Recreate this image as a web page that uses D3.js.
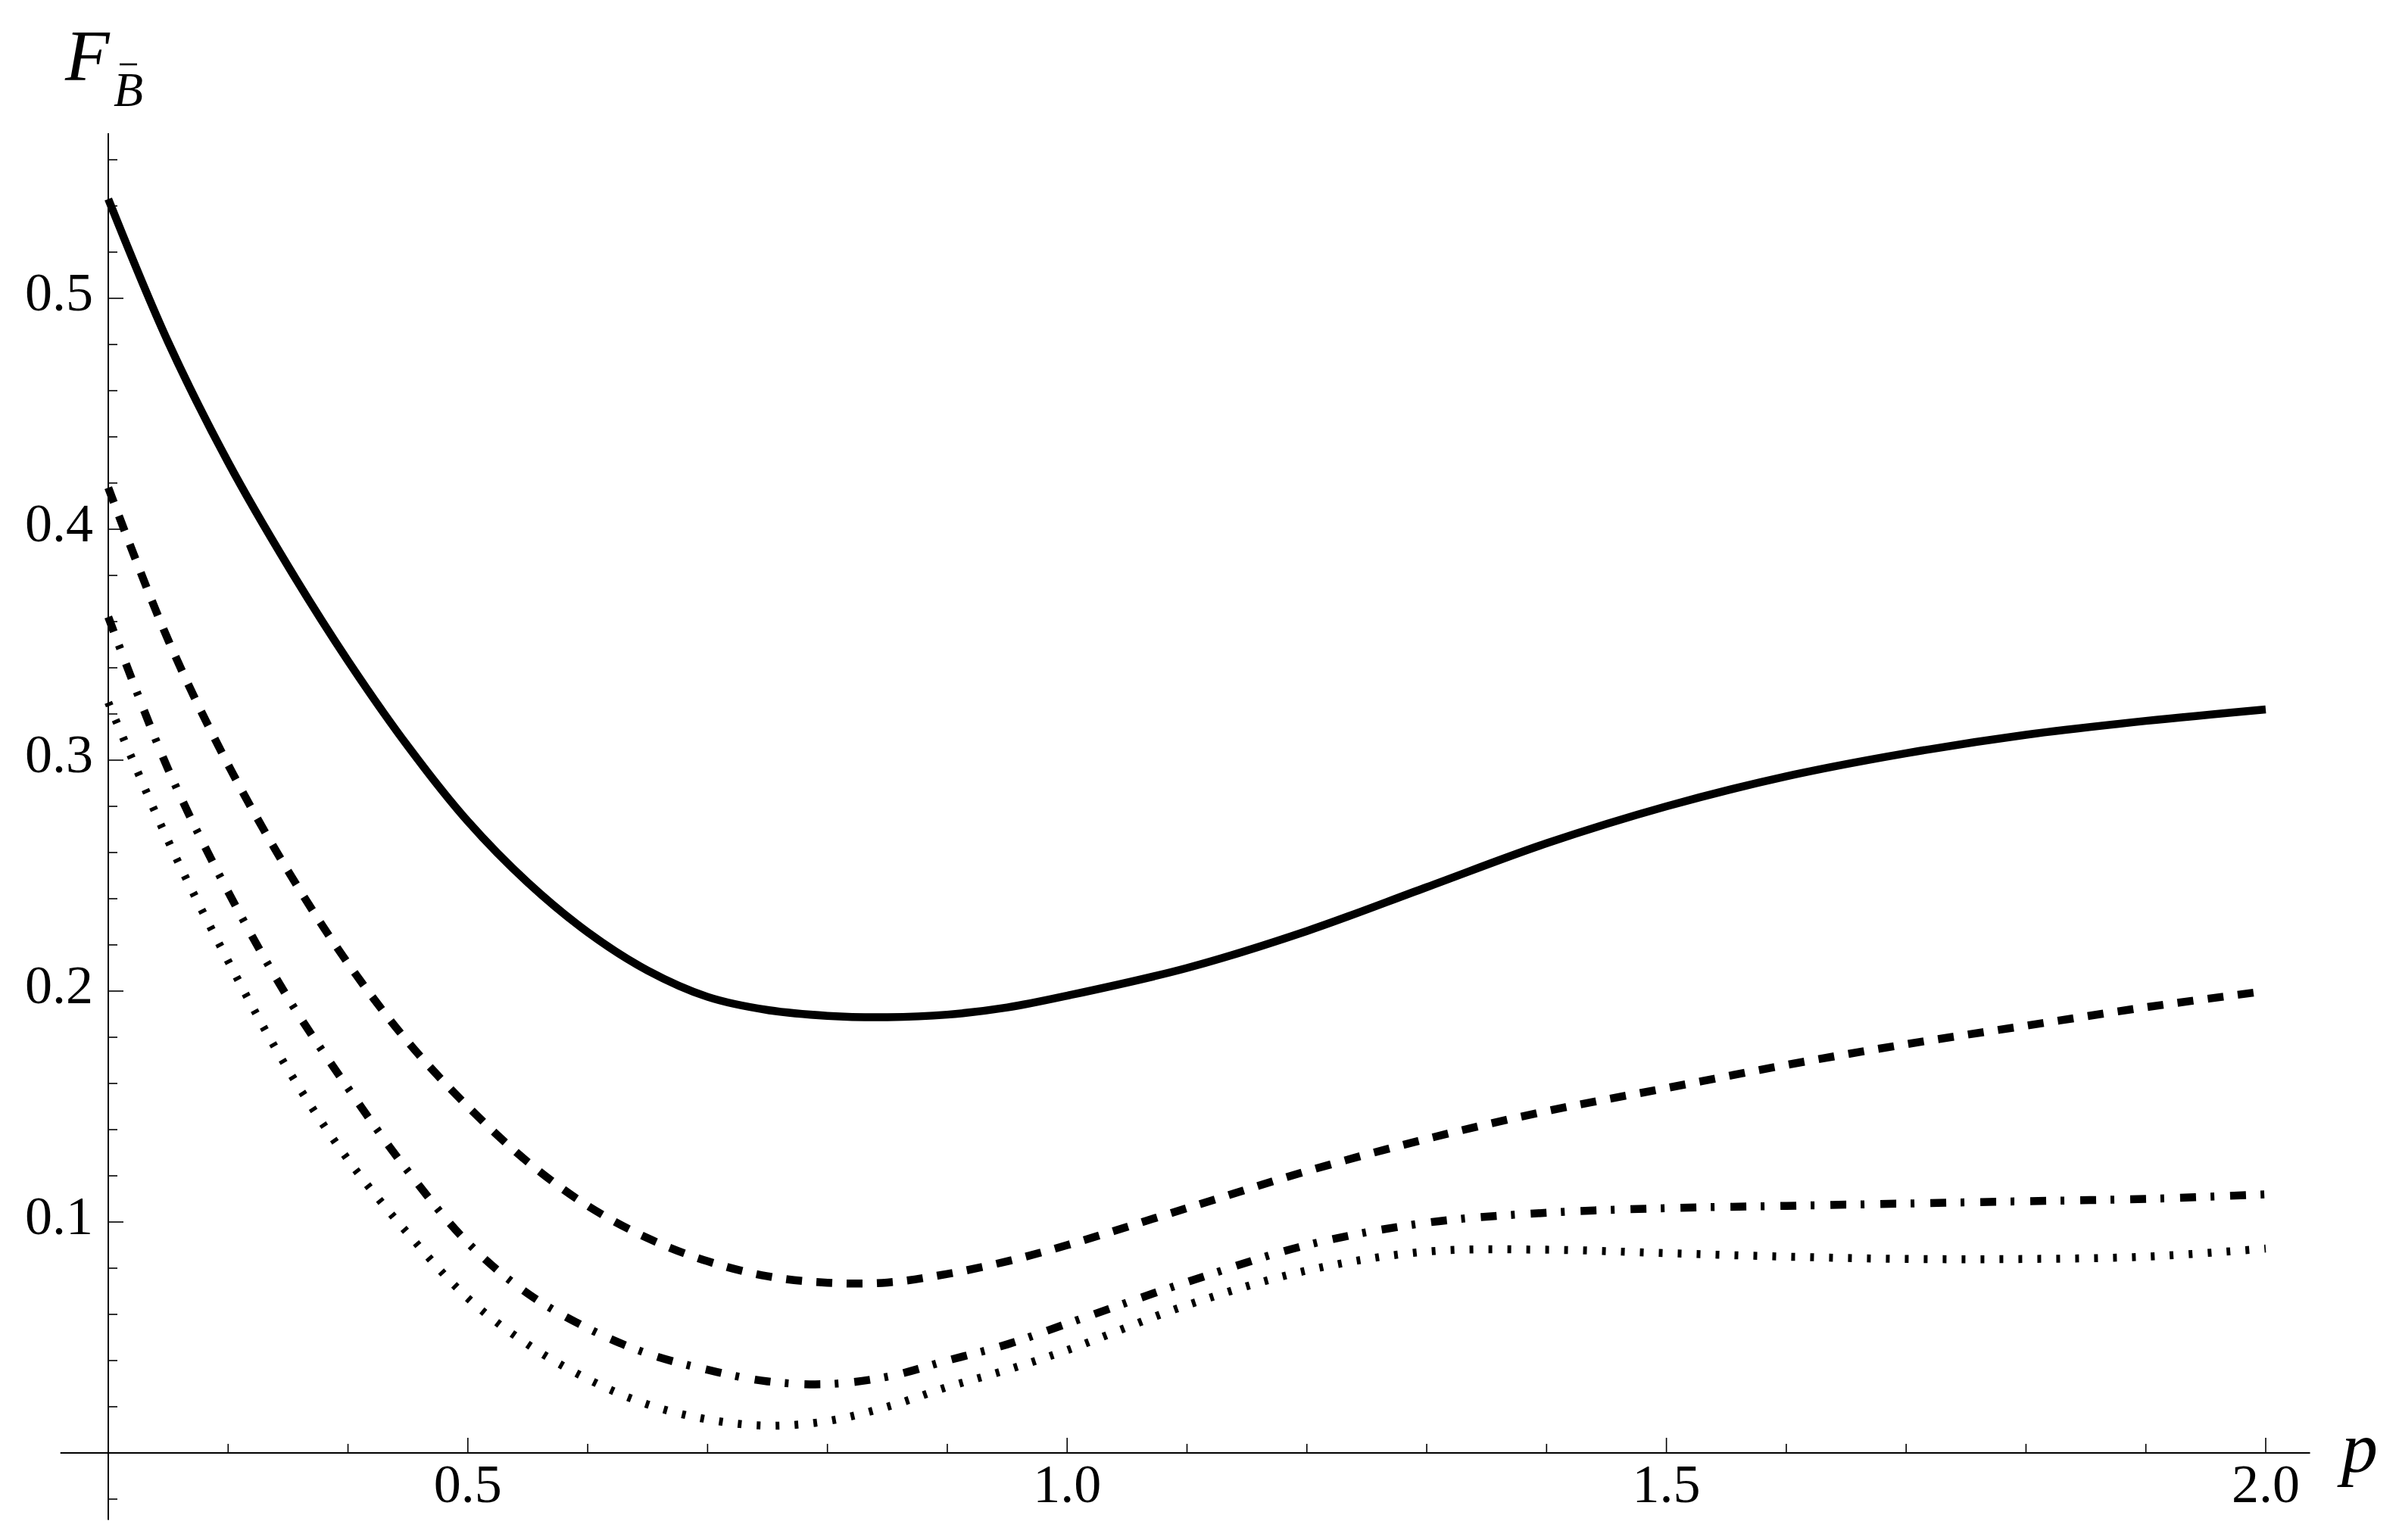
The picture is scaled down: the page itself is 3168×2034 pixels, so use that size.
<!DOCTYPE html>
<html>
<head>
<meta charset="utf-8">
<script src="https://cdn.jsdelivr.net/npm/d3@7"></script>
<style>
  html, body { margin: 0; padding: 0; background: #fff; }
  svg { display: block; }
</style>
</head>
<body>
<script>
// ---- data ----
const pValues = [0.2, 0.25, 0.3, 0.35, 0.4, 0.45, 0.5, 0.55, 0.6, 0.65, 0.7, 0.75, 0.8, 0.85, 0.9, 0.95, 1.0, 1.1, 1.2, 1.3, 1.4, 1.5, 1.6, 1.7, 1.8, 1.9, 2.0];
const solidValues   = [0.543, 0.481, 0.429, 0.384, 0.343, 0.306, 0.2735, 0.247, 0.2255, 0.2089, 0.1975, 0.1918, 0.1893, 0.1887, 0.1898, 0.1929, 0.198, 0.210, 0.226, 0.245, 0.264, 0.280, 0.293, 0.303, 0.311, 0.317, 0.322];
const dashedValues  = [0.418, 0.352, 0.298, 0.252, 0.212, 0.178, 0.150, 0.126, 0.107, 0.093, 0.083, 0.0765, 0.0737, 0.0738, 0.0775, 0.083, 0.090, 0.106, 0.122, 0.136, 0.148, 0.158, 0.168, 0.177, 0.185, 0.193, 0.200];
const dashDotValues = [0.362, 0.296, 0.243, 0.197, 0.158, 0.122, 0.091, 0.069, 0.054, 0.043, 0.036, 0.031, 0.0298, 0.033, 0.040, 0.047, 0.056, 0.074, 0.090, 0.0997, 0.104, 0.106, 0.107, 0.108, 0.109, 0.110, 0.112];
const dottedValues  = [0.325, 0.265, 0.213, 0.166, 0.127, 0.095, 0.067, 0.047, 0.032, 0.021, 0.0145, 0.0118, 0.0138, 0.020, 0.0285, 0.036, 0.0445, 0.064, 0.079, 0.0872, 0.088, 0.0865, 0.085, 0.084, 0.084, 0.085, 0.0885];

const xMajorTicks = [0.5, 1.0, 1.5, 2.0];
const xTickLabels = ["0.5", "1.0", "1.5", "2.0"];
const yMajorTicks = [0.1, 0.2, 0.3, 0.4, 0.5];
const yTickLabels = ["0.1", "0.2", "0.3", "0.4", "0.5"];

// ---- layout ----
const W = 3168, H = 2034;
const FONT = "'Liberation Serif', 'Times New Roman', Times, serif";
const svg = d3.select("body").append("svg").attr("width", W).attr("height", H)
  .attr("font-family", FONT);
svg.append("rect").attr("width", W).attr("height", H).attr("fill", "#fff");

const x = d3.scaleLinear().domain([0.2, 2.0]).range([143, 2992]);
const y = d3.scaleLinear().domain([0, 0.5]).range([1919, 394]);

const xAxisExtent = [0.16, 2.037];
const yAxisExtent = [-0.029, 0.5715];

const g = svg.append("g");

// axes lines
g.append("line").attr("x1", x(xAxisExtent[0])).attr("x2", x(xAxisExtent[1]))
  .attr("y1", y(0)).attr("y2", y(0)).attr("stroke", "#000").attr("stroke-width", 2);
g.append("line").attr("x1", x(0.2)).attr("x2", x(0.2))
  .attr("y1", y(yAxisExtent[0])).attr("y2", y(yAxisExtent[1])).attr("stroke", "#000").attr("stroke-width", 2);

// x ticks
const xMinor = d3.range(3, 20).map(d => d / 10).filter(d => !xMajorTicks.some(m => Math.abs(m - d) < 1e-9));
g.selectAll(".xminor").data(xMinor).enter().append("line")
  .attr("x1", d => x(d)).attr("x2", d => x(d)).attr("y1", y(0)).attr("y2", y(0) - 12)
  .attr("stroke", "#000").attr("stroke-width", 1.6);
g.selectAll(".xmajor").data(xMajorTicks).enter().append("line")
  .attr("x1", d => x(d)).attr("x2", d => x(d)).attr("y1", y(0)).attr("y2", y(0) - 20)
  .attr("stroke", "#000").attr("stroke-width", 1.6);
g.selectAll(".xlab").data(xMajorTicks).enter().append("text")
  .attr("x", d => x(d)).attr("y", y(0) + 65)
  .attr("text-anchor", "middle").attr("font-size", 72).attr("font-family", FONT)
  .text((d, i) => xTickLabels[i]);

// y ticks
const yMinor = d3.range(-1, 29).map(d => d / 50).filter(d => Math.abs(d) > 1e-9 && !yMajorTicks.some(m => Math.abs(m - d) < 1e-9));
g.selectAll(".yminor").data(yMinor).enter().append("line")
  .attr("x1", x(0.2)).attr("x2", x(0.2) + 12).attr("y1", d => y(d)).attr("y2", d => y(d))
  .attr("stroke", "#000").attr("stroke-width", 1.6);
g.selectAll(".ymajor").data(yMajorTicks).enter().append("line")
  .attr("x1", x(0.2)).attr("x2", x(0.2) + 20).attr("y1", d => y(d)).attr("y2", d => y(d))
  .attr("stroke", "#000").attr("stroke-width", 1.6);
g.selectAll(".ylab").data(yMajorTicks).enter().append("text")
  .attr("x", 123).attr("y", d => y(d) + 16)
  .attr("text-anchor", "end").attr("font-size", 72).attr("font-family", FONT)
  .text((d, i) => yTickLabels[i]);

// axis labels
g.append("text").attr("x", 3092).attr("y", 1944).attr("font-size", 96).attr("font-style", "italic")
  .attr("font-family", FONT).text("p");
g.append("text").attr("x", 86).attr("y", 106).attr("font-size", 96).attr("font-style", "italic")
  .attr("font-family", FONT).text("F");
g.append("text").attr("x", 150).attr("y", 140).attr("font-size", 64).attr("font-style", "italic")
  .attr("font-family", FONT).text("B");
g.append("line").attr("x1", 158).attr("x2", 181).attr("y1", 85).attr("y2", 85).attr("stroke", "#000").attr("stroke-width", 2.6);

// curves
const line = d3.line().x(d => x(d[0])).y(d => y(d[1])).curve(d3.curveCatmullRom.alpha(0.5));
const series = [
  { values: solidValues,   dash: null },
  { values: dashedValues,  dash: "21,19" },
  { values: dashDotValues, dash: "21,19,5,21" },
  { values: dottedValues,  dash: "5,20" }
];
series.forEach(s => {
  const pts = pValues.map((p, i) => [p, s.values[i]]);
  const path = g.append("path").attr("d", line(pts))
    .attr("fill", "none").attr("stroke", "#000").attr("stroke-width", 10.5)
    .attr("stroke-linecap", "butt").attr("stroke-linejoin", "round");
  if (s.dash) path.attr("stroke-dasharray", s.dash);
});
</script>
</body>
</html>
